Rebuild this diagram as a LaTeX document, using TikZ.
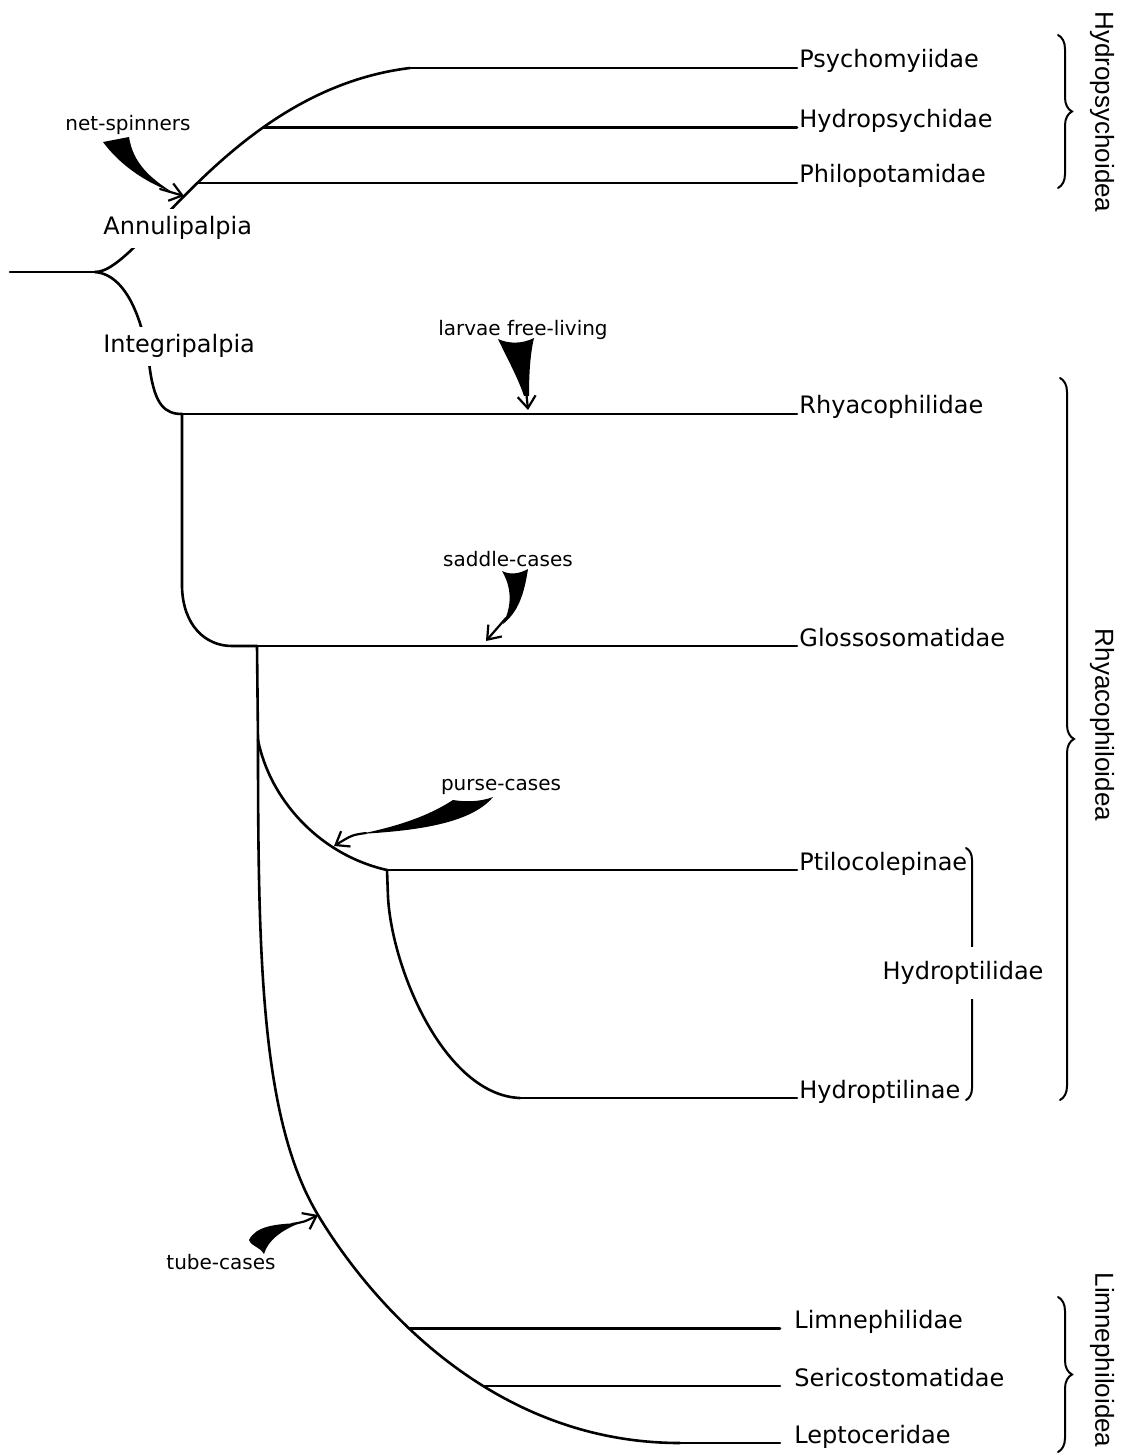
\documentclass[tikz,border=0pt]{standalone}
\usepackage{fontspec}
\setmainfont{DejaVu Sans}
\newfontfamily\groupfont{Liberation Sans}
\usetikzlibrary{arrows.meta, decorations.pathreplacing}

\tikzset{
  branch/.style = {line width=1.3pt},
  taxon/.style = {anchor=base west, inner sep=1pt, font=\fontsize{12}{14}\selectfont},
  clade/.style = {anchor=base west, inner xsep=1pt, inner ysep=4pt, fill=white, font=\fontsize{12}{14}\selectfont},
  habit/.style = {inner sep=1pt, font=\fontsize{10}{12}\selectfont},
  barb/.style = {line width=1.1pt, -{Straight Barb[length=6pt, width=9pt]}},
  grpbrace/.style = {line width=1pt, decorate, decoration={brace, amplitude=7pt}},
  superfam/.style = {rotate=-90, inner sep=1pt, font=\groupfont\fontsize{13}{15}\selectfont}
}

\begin{document}
\begin{tikzpicture}[x=0.5pt, y=0.5pt, line cap=round]
\useasboundingbox (0,0) rectangle (1130,-1454);

% junctions of the tree
\coordinate (ex) at (797,0);
\coordinate (lx) at (780,0);
\coordinate (root) at (10,-272);
\coordinate (fork) at (95,-272);
\coordinate (jpsy) at (410,-68);
\coordinate (jrhy) at (182,-414);
\coordinate (jglo) at (257,-646);
\coordinate (jcase) at (258,-740);
\coordinate (jptc) at (387,-870);
\coordinate (jhpl) at (520,-1098);
\coordinate (jtube) at (318,-1215);
\coordinate (jlep) at (680,-1443);

% tree
\draw[branch] (root) -- (fork);
\draw[branch] (fork) .. controls (140,-273) and (230,-90) ..
    coordinate[pos=0.485] (jphi) coordinate[pos=0.68] (jhyd) (jpsy);
\draw[branch] (fork) .. controls (130,-275) and (145,-330) .. (150,-370)
    .. controls (155,-405) and (165,-414) .. (jrhy);
\draw[branch] (jrhy) -- (182,-587) .. controls (183,-625) and (205,-646) .. (232,-646) -- (jglo);
\draw[branch] (jglo) -- (jcase);
\draw[branch] (jcase) .. controls (270,-800) and (320,-855) .. (jptc);
\draw[branch] (jptc) -- (388,-897) .. controls (392,-970) and (445,-1095) .. (jhpl);
\draw[branch] (jcase) .. controls (258,-960) and (261,-1120) .. (jtube)
    .. controls (360,-1285) and (480,-1443) ..
    coordinate[pos=0.41] (jlim) coordinate[pos=0.612] (jser) (jlep);

% families
\node[taxon] (psy) at (jpsy -| ex) {Psychomyiidae};
\node[taxon] (hyd) at (jhyd -| ex) {Hydropsychidae};
\node[taxon] (phi) at (jphi -| ex) {Philopotamidae};
\node[taxon] (rhy) at (jrhy -| ex) {Rhyacophilidae};
\node[taxon] (glo) at (jglo -| ex) {Glossosomatidae};
\node[taxon] (ptc) at (jptc -| ex) {Ptilocolepinae};
\node[taxon] (hpl) at (jhpl -| ex) {Hydroptilinae};
\node[taxon, inner xsep=7pt] (lim) at (jlim -| lx) {Limnephilidae};
\node[taxon, inner xsep=7pt] (ser) at (jser -| lx) {Sericostomatidae};
\node[taxon, inner xsep=7pt] (lep) at (jlep -| lx) {Leptoceridae};

\foreach \j/\t in {jpsy/psy, jhyd/hyd, jphi/phi, jrhy/rhy, jglo/glo,
                   jptc/ptc, jhpl/hpl, jlim/lim, jser/ser, jlep/lep}
  \draw[branch] (\j) -- (\t.base west);

% suborders
\node[clade] (annu) at (101,-235) {Annulipalpia};
\node[clade] (integ) at (101,-353) {Integripalpia};

% superfamilies
\draw[grpbrace] (1058,-35) -- (1058,-188);
\draw[grpbrace] (1060,-378) -- (1060,-1100);
\draw[grpbrace] (1058,-1297) -- (1058,-1452);
\draw[grpbrace, decoration={brace, amplitude=6pt}] (966,-848) -- (966,-1100);
\node[superfam] (hsup) at (1102,-112) {Hydropsychoidea};
\node[superfam] (rsup) at (1102,-725) {Rhyacophiloidea};
\node[superfam] (lsup) at (1102,-1360) {Limnephiloidea};
\node[taxon, anchor=center, fill=white, inner ysep=7pt] (hptl) at (963,-973) {Hydroptilidae};

% larval habits
\node[habit] (net) at (128,-125) {net-spinners};
\coordinate (netTip) at (184,-196);
\fill (103,-142) .. controls (120,-165) and (145,-182) .. (172,-192)
    .. controls (150,-178) and (133,-163) .. (129,-137) -- cycle;
\draw[barb] (160,-189) -- (netTip);

\node[habit] (larv) at (523,-330) {larvae free-living};
\coordinate (larvTip) at (528,-410);
\fill (498,-339) .. controls (508,-360) and (518,-378) .. (524,-396) -- (529,-396)
    .. controls (529,-375) and (530,-355) .. (534,-338)
    .. controls (522,-344) and (509,-344) .. (498,-339) -- cycle;
\draw[barb] (526,-390) -- (larvTip);

\node[habit] (sadd) at (508,-559) {saddle-cases};
\coordinate (saddTip) at (486,-641);
\fill (502,-571) .. controls (512,-588) and (512,-606) .. (503,-624)
    .. controls (518,-612) and (524,-595) .. (528,-569)
    .. controls (519,-574) and (510,-575) .. (502,-571) -- cycle;
\draw[barb] (506,-618) -- (saddTip);

\node[habit] (purs) at (501,-787) {purse-cases};
\coordinate (pursTip) at (334,-846);
\fill (453,-800) .. controls (430,-815) and (400,-826) .. (360,-834)
    .. controls (410,-831) and (470,-825) .. (493,-797)
    .. controls (480,-802) and (465,-802) .. (453,-800) -- cycle;
\draw[barb] (366,-833) .. controls (352,-835) .. (pursTip);

\node[habit] (tube) at (221,-1262) {tube-cases};
\fill (249,-1240) .. controls (256,-1226) and (275,-1224) .. (300,-1223)
    .. controls (282,-1230) and (268,-1240) .. (264,-1254)
    .. controls (259,-1246) and (252,-1247) .. (249,-1240) -- cycle;
\draw[barb] (292,-1224) .. controls (304,-1222) .. (jtube);
\end{tikzpicture}
\end{document}
